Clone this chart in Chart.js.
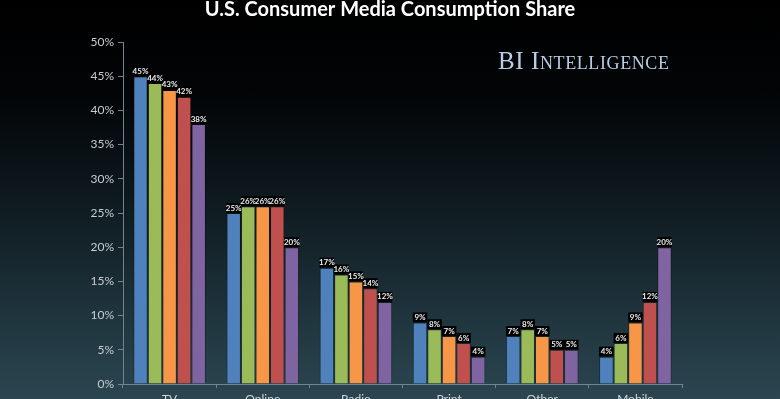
<!DOCTYPE html>
<html>
<head>
<meta charset="utf-8">
<script src="https://cdn.jsdelivr.net/npm/chart.js@4/dist/chart.umd.min.js"></script>
<style>
    html, body { margin: 0; padding: 0; }
    body {
        width: 780px; height: 399px; overflow: hidden; position: relative;
        background: linear-gradient(to bottom, #000000 0%, #020406 22%, #0a1318 42%, #15242b 62%, #213740 82%, #2b4651 100%);
    }
    #wrap { position: absolute; left: 0; top: 0; width: 780px; height: 399px; }
    #brand {
        position: absolute; left: 498px; top: 47px;
        font-family: "Liberation Serif", "DejaVu Serif", serif;
        font-variant: small-caps; font-size: 25px; letter-spacing: 0.6px;
        color: #b9cde6;
    }
</style>
</head>
<body>
<div id="wrap"><canvas id="mediaChart" width="780" height="399"></canvas></div>
<div id="brand">BI Intelligence</div>
<script>
// Media consumption share, % of time
const categories = ['TV', 'Online', 'Radio', 'Print', 'Other', 'Mobile'];
const series1 = [45, 25, 17, 9, 7, 4];
const series2 = [44, 26, 16, 8, 8, 6];
const series3 = [43, 26, 15, 7, 7, 9];
const series4 = [42, 26, 14, 6, 5, 12];
const series5 = [38, 20, 12, 4, 5, 20];
const yTicks = [0, 5, 10, 15, 20, 25, 30, 35, 40, 45, 50];

const colors = ['#4f81bd', '#9bbb59', '#f79646', '#c0504d', '#8064a2'];

// title drawn over the canvas
const titlePlugin = {
    id: 'slideTitle',
    afterDraw(chart) {
        const ctx = chart.ctx;
        ctx.save();
        ctx.font = 'bold 20px Lato';
        ctx.fillStyle = '#ffffff';
        ctx.textAlign = 'center';
        ctx.textBaseline = 'alphabetic';
        ctx.fillText('U.S. Consumer Media Consumption Share', 390, 16);
        ctx.restore();
    }
};

// small value labels with black box above each bar
const valueLabels = {
    id: 'valueLabels',
    afterDatasetsDraw(chart) {
        const ctx = chart.ctx;
        ctx.save();
        ctx.font = 'bold 8px Lato';
        ctx.textAlign = 'center';
        ctx.textBaseline = 'middle';
        chart.data.datasets.forEach((ds, i) => {
            chart.getDatasetMeta(i).data.forEach((bar, j) => {
                const w = bar.width;
                ctx.fillStyle = '#000000';
                ctx.fillRect(bar.x - w / 2, bar.y - 10, w, 10);
                ctx.fillStyle = '#ececec';
                ctx.fillText(ds.data[j] + '%', bar.x, bar.y - 5);
            });
        });
        ctx.restore();
    }
};

const allSeries = [series1, series2, series3, series4, series5];

new Chart(document.getElementById('mediaChart'), {
    type: 'bar',
    data: {
        labels: categories,
        datasets: allSeries.map((d, i) => ({
            label: 'Series ' + (i + 1),
            data: d,
            backgroundColor: colors[i],
            borderColor: 'rgba(0,0,0,0.3)',
            borderWidth: 1,
            categoryPercentage: 0.78,
            barPercentage: 1.0
        }))
    },
    options: {
        responsive: false,
        animation: false,
        devicePixelRatio: 1,
        layout: { padding: { left: 0, right: 98, top: 42, bottom: 0 } },
        plugins: {
            legend: { display: false },
            tooltip: { enabled: false }
        },
        scales: {
            x: {
                afterFit(s) { s.height = 15; },
                border: { color: '#6f8590', width: 1 },
                grid: { drawOnChartArea: false, drawTicks: true, tickLength: 4, color: '#6f8590' },
                ticks: { color: '#cfd6da', font: { family: 'Lato', size: 12 }, padding: 4, maxRotation: 0 }
            },
            y: {
                min: 0,
                max: 50,
                afterFit(s) { s.width = 123; },
                afterBuildTicks(s) { s.ticks = yTicks.map(v => ({ value: v })); },
                border: { color: '#6f8590', width: 1 },
                grid: { drawOnChartArea: false, drawTicks: true, tickLength: 5, color: '#6f8590' },
                ticks: {
                    color: '#c6ced2',
                    font: { family: 'Lato', size: 12 },
                    padding: 4,
                    callback: v => v + '%'
                }
            }
        }
    },
    plugins: [titlePlugin, valueLabels]
});
</script>
</body>
</html>
